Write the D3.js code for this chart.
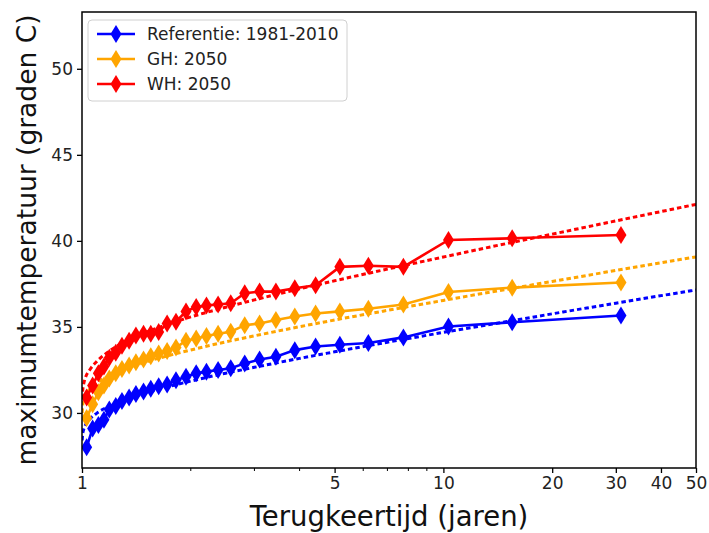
<!DOCTYPE html>
<html>
<head>
<meta charset="utf-8">
<script src="https://cdn.jsdelivr.net/npm/d3@7"></script>
<style>
  body { margin: 0; background: #fff; }
  text { font-family: "DejaVu Sans", sans-serif; }
</style>
</head>
<body>
<div id="chart"></div>
<script>
// terugkeertijd van de punten (jaren)
let returnPeriods = [31, 15.5, 10.33, 7.75, 6.2, 5.17, 4.43, 3.88, 3.44, 3.1, 2.82, 2.58, 2.38, 2.21, 2.07,
  1.94, 1.82, 1.72, 1.63, 1.55, 1.48, 1.41, 1.35, 1.29, 1.24, 1.19, 1.15, 1.11, 1.07, 1.03];

let refValues = [35.66, 35.27, 35.02, 34.39, 34.06, 33.96, 33.86, 33.65, 33.26, 33.1, 32.88, 32.6, 32.5, 32.4, 32.3,
  32.1, 31.9, 31.65, 31.55, 31.4, 31.25, 31.1, 30.9, 30.7, 30.4, 30.2, 29.6, 29.3, 29.1, 28.0];
let ghValues = [37.58, 37.28, 37.03, 36.3, 36.05, 35.9, 35.78, 35.6, 35.4, 35.2, 35.1, 34.72, 34.6, 34.47, 34.33,
  34.2, 33.8, 33.6, 33.45, 33.3, 33.1, 32.95, 32.75, 32.55, 32.3, 32.0, 31.6, 31.2, 30.5, 29.7];
let whValues = [40.34, 40.15, 40.05, 38.49, 38.55, 38.49, 37.42, 37.25, 37.05, 37.05, 36.96, 36.37, 36.3, 36.25, 36.15,
  35.9, 35.3, 35.2, 34.7, 34.6, 34.6, 34.5, 34.2, 33.9, 33.5, 33.2, 32.7, 32.3, 31.6, 30.9];

let fitPeriods = [1.001, 1.004, 1.01, 1.02, 1.05, 1.1, 1.2, 1.35, 1.5, 1.75, 2, 2.5, 3, 4, 5, 7, 10, 15, 20, 30, 50];
let refFit = [28.40, 28.74, 29.01, 29.25, 29.63, 29.99, 30.43, 30.85, 31.16, 31.55, 31.85, 32.31, 32.65, 33.17, 33.55, 34.11, 34.68, 35.31, 35.76, 36.38, 37.15];
let ghFit = [30.0, 30.4, 30.7, 30.98, 31.38, 31.75, 32.21, 32.64, 32.96, 33.35, 33.66, 34.13, 34.48, 35.01, 35.40, 35.96, 36.54, 37.19, 37.64, 38.28, 39.07];
let whFit = [30.8, 31.25, 31.65, 32.0, 32.5, 33.0, 33.65, 34.25, 34.68, 35.19, 35.58, 36.14, 36.57, 37.21, 37.68, 38.36, 39.06, 39.85, 40.39, 41.16, 42.12];

let seriesNames = ['Referentie: 1981-2010', 'GH: 2050', 'WH: 2050'];
let seriesColors = ['#0000ff', '#ffa500', '#ff0000'];

let xTicks = [1, 5, 10, 20, 30, 40, 50];
let xMinorTicks = [2, 3, 4, 6, 7, 8, 9];
let yTicks = [30, 35, 40, 45, 50];

let width = 709, height = 533;
let margin = { top: 12, right: 13, bottom: 65, left: 82 };

let svg = d3.select('#chart').append('svg').attr('width', width).attr('height', height);

let x = d3.scaleLog().domain([1, 50]).range([margin.left, width - margin.right]);
let y = d3.scaleLinear().domain([26.8, 53.3]).range([height - margin.bottom, margin.top]);

svg.append('clipPath').attr('id', 'clip')
  .append('rect')
  .attr('x', margin.left).attr('y', margin.top)
  .attr('width', width - margin.left - margin.right)
  .attr('height', height - margin.top - margin.bottom);

let plot = svg.append('g').attr('clip-path', 'url(#clip)');

let allValues = [refValues, ghValues, whValues];
let allFits = [refFit, ghFit, whFit];

let line = d3.line().x(d => x(d[0])).y(d => y(d[1]));
let fitLine = d3.line().x(d => x(d[0])).y(d => y(d[1])).curve(d3.curveMonotoneX);

let diamond = 'M0,-9L5.5,0L0,9L-5.5,0Z';

for (let s = 0; s < 3; s++) {
  let pts = returnPeriods.map((t, i) => [t, allValues[s][i]]);
  let fitPts = fitPeriods.map((t, i) => [t, allFits[s][i]]);

  plot.append('path')
    .attr('d', line(pts))
    .attr('fill', 'none')
    .attr('stroke', seriesColors[s])
    .attr('stroke-width', 2.6);

  plot.selectAll('.m' + s)
    .data(pts)
    .enter()
    .append('path')
    .attr('class', 'm' + s)
    .attr('d', diamond)
    .attr('transform', d => `translate(${x(d[0])},${y(d[1])})`)
    .attr('fill', seriesColors[s]);

  plot.append('path')
    .attr('d', fitLine(fitPts))
    .attr('fill', 'none')
    .attr('stroke', seriesColors[s])
    .attr('stroke-width', 3)
    .attr('stroke-dasharray', '4.5,3');
}

// assen
let xAxis = svg.append('g')
  .attr('transform', `translate(0,${height - margin.bottom})`)
  .call(d3.axisBottom(x).tickValues(xTicks).tickFormat(d3.format('d')).tickSize(5).tickPadding(4));
xAxis.append('g').selectAll('line')
  .data(xMinorTicks)
  .enter()
  .append('line')
  .attr('x1', d => x(d)).attr('x2', d => x(d))
  .attr('y1', 0).attr('y2', 3)
  .attr('stroke', '#000');

let yAxis = svg.append('g')
  .attr('transform', `translate(${margin.left},0)`)
  .call(d3.axisLeft(y).tickValues(yTicks).tickSize(5).tickPadding(4));

svg.selectAll('.domain').remove();
svg.selectAll('.tick line').attr('stroke', '#000').attr('stroke-width', 1.3);
svg.selectAll('.tick text').attr('font-size', 17).attr('fill', '#222').attr('font-family', 'DejaVu Sans');

svg.append('rect')
  .attr('x', margin.left).attr('y', margin.top)
  .attr('width', width - margin.left - margin.right)
  .attr('height', height - margin.top - margin.bottom)
  .attr('fill', 'none')
  .attr('stroke', '#000')
  .attr('stroke-width', 1.5);

svg.append('text')
  .attr('x', (margin.left + width - margin.right) / 2)
  .attr('y', 526)
  .attr('text-anchor', 'middle')
  .attr('font-size', 27.5)
  .attr('fill', '#111')
  .text('Terugkeertijd (jaren)');

svg.append('text')
  .attr('transform', `translate(36,${(margin.top + height - margin.bottom) / 2}) rotate(-90)`)
  .attr('text-anchor', 'middle')
  .attr('font-size', 26.5)
  .attr('fill', '#111')
  .text('maximumtemperatuur (graden C)');

// legenda
let legend = svg.append('g');
legend.append('rect')
  .attr('x', 88).attr('y', 20)
  .attr('width', 259).attr('height', 81)
  .attr('rx', 4)
  .attr('fill', '#fff').attr('fill-opacity', 0.85)
  .attr('stroke', '#d0d0d0');

seriesNames.forEach((name, i) => {
  let ly = 34 + i * 25;
  legend.append('line')
    .attr('x1', 97).attr('x2', 135)
    .attr('y1', ly).attr('y2', ly)
    .attr('stroke', seriesColors[i])
    .attr('stroke-width', 2.6);
  legend.append('path')
    .attr('d', diamond)
    .attr('transform', `translate(116,${ly})`)
    .attr('fill', seriesColors[i]);
  legend.append('text')
    .attr('x', 147).attr('y', ly + 6)
    .attr('font-size', 17)
    .attr('fill', '#222')
    .text(name);
});
</script>
</body>
</html>
